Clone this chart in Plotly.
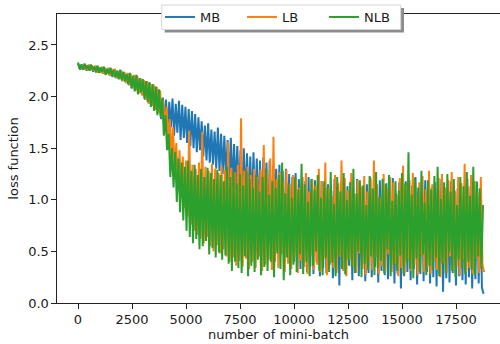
import plotly.graph_objects as go

step = 75  # mini-batch spacing between successive readings

mb = [2.32,2.26,2.31,2.27,2.31,2.25,2.30,2.26,2.30,2.24,
      2.29,2.23,2.29,2.24,2.28,2.22,2.28,2.22,2.27,2.21,
      2.27,2.19,2.26,2.18,2.25,2.17,2.25,2.15,2.23,2.14,
      2.22,2.11,2.22,2.08,2.20,2.06,2.20,2.03,2.17,2.02,
      2.16,1.97,2.14,1.94,2.13,1.91,2.11,1.88,2.09,1.85,
      2.05,1.78,1.99,1.72,1.97,1.66,1.95,1.70,1.98,1.62,
      1.93,1.65,1.96,1.58,1.92,1.60,1.90,1.55,1.88,1.52,
      1.86,1.50,1.83,1.46,1.80,1.48,1.76,1.42,1.72,1.38,
      1.74,1.36,1.68,1.34,1.66,1.30,1.70,1.28,1.64,1.25,
      1.62,1.20,1.58,1.18,1.60,1.12,1.54,1.10,1.52,1.05,
      1.48,1.02,1.50,0.98,1.45,0.95,1.42,0.90,1.46,0.86,
      1.40,0.82,1.38,0.78,1.41,0.74,1.36,0.70,1.38,0.66,
      1.33,0.62,1.30,0.58,1.34,0.55,1.28,0.50,1.30,0.46,
      1.25,0.42,1.22,0.40,1.26,0.36,1.20,0.33,1.15,0.38,
      1.18,0.30,1.22,0.35,1.10,0.28,1.19,0.40,1.12,0.26,
      1.18,0.34,1.03,0.29,1.15,0.37,1.09,0.24,1.20,0.31,
      1.07,0.17,1.17,0.33,1.00,0.27,1.13,0.36,1.18,0.22,
      1.05,0.30,1.20,0.26,1.11,0.34,1.02,0.21,1.15,0.29,
      1.22,0.25,1.08,0.35,1.14,0.20,1.19,0.31,1.04,0.27,
      1.16,0.23,1.11,0.32,1.21,0.19,1.06,0.28,1.17,0.14,
      1.10,0.26,1.18,0.30,1.01,0.22,1.14,0.33,1.22,0.18,
      1.07,0.28,1.15,0.21,1.19,0.30,1.03,0.19,1.12,0.25,
      1.17,0.16,1.09,0.27,1.20,0.11,1.05,0.24,1.14,0.20,
      1.18,0.29,1.02,0.17,1.11,0.26,1.16,0.22,1.08,0.18,
      1.20,0.25,1.13,0.14,1.06,0.23,1.17,0.19,1.11,0.15,
      0.09]

lb = [2.32,2.27,2.30,2.26,2.31,2.26,2.31,2.25,2.30,2.25,
      2.30,2.23,2.28,2.23,2.29,2.22,2.27,2.22,2.28,2.20,
      2.27,2.20,2.27,2.18,2.24,2.17,2.25,2.15,2.24,2.13,
      2.23,2.11,2.21,2.09,2.21,2.06,2.19,2.03,2.18,2.01,
      2.16,1.97,2.15,1.93,2.12,1.91,2.12,1.87,2.09,1.84,
      2.06,1.80,1.96,1.70,1.90,1.58,1.78,1.42,1.70,1.28,
      1.55,1.10,1.48,1.02,1.42,0.92,1.38,0.84,1.67,0.76,
      1.34,0.70,1.30,0.66,1.36,0.62,1.66,0.58,1.32,0.64,
      1.28,0.55,1.35,0.50,1.30,0.56,1.26,0.48,1.33,0.52,
      1.29,0.45,1.56,0.40,1.31,0.44,1.27,0.36,1.34,0.41,
      1.79,0.35,1.28,0.43,1.32,0.33,1.24,0.40,1.30,0.34,
      1.22,0.45,1.29,0.31,1.53,0.37,1.25,0.42,1.40,0.32,
      1.61,0.40,1.20,0.34,1.27,0.47,1.18,0.30,1.29,0.38,
      1.15,0.33,1.24,0.44,1.19,0.29,1.12,0.41,1.22,0.35,
      1.26,0.28,1.08,0.46,1.20,0.32,1.14,0.37,1.30,0.30,
      1.18,0.43,1.36,0.27,1.12,0.39,1.04,0.34,1.24,0.29,
      1.16,0.45,1.38,0.31,1.21,0.26,1.09,0.42,1.26,0.35,
      1.06,0.29,1.19,0.48,1.13,0.33,1.23,0.27,1.08,0.40,
      1.20,0.32,1.38,0.44,1.15,0.28,1.02,0.36,1.25,0.31,
      1.11,0.47,1.22,0.30,1.17,0.38,1.05,0.26,1.21,0.34,
      1.33,0.29,1.14,0.43,1.19,0.31,1.26,0.37,1.04,0.27,
      1.17,0.46,1.23,0.30,1.10,0.35,1.28,0.28,1.15,0.41,
      1.01,0.32,1.21,0.25,1.25,0.39,1.12,0.29,1.19,0.45,
      1.27,0.31,1.09,0.36,1.22,0.27,1.16,0.42,1.35,0.30,
      1.13,0.34,1.24,0.28,1.18,0.43,1.07,0.29,1.22,0.37,
      0.30]

nlb = [2.33,2.27,2.31,2.26,2.32,2.27,2.30,2.25,2.31,2.26,
       2.29,2.24,2.30,2.23,2.28,2.24,2.29,2.21,2.27,2.22,
       2.28,2.20,2.26,2.19,2.25,2.17,2.26,2.16,2.24,2.15,
       2.22,2.12,2.23,2.08,2.20,2.05,2.21,2.02,2.18,2.04,
       2.17,1.98,2.15,1.95,2.14,1.90,2.12,1.86,2.10,1.82,
       2.07,1.80,1.98,1.62,1.82,1.48,1.64,1.22,1.50,1.12,
       1.46,0.98,1.40,0.88,1.36,0.80,1.32,0.70,1.38,0.64,
       1.28,0.58,1.34,0.62,1.24,0.52,1.30,0.55,1.22,0.60,
       1.31,0.47,1.26,0.53,1.20,0.44,1.29,0.49,1.24,0.42,
       1.18,0.46,1.32,0.38,1.22,0.31,1.27,0.40,1.16,0.34,
       1.25,0.29,1.14,0.45,1.28,0.26,1.20,0.36,1.12,0.30,
       1.24,0.42,1.08,0.27,1.22,0.35,1.30,0.31,1.05,0.40,
       1.18,0.25,1.12,0.48,1.24,0.33,1.36,0.22,1.06,0.44,
       1.16,0.27,1.02,0.37,1.22,0.30,1.10,0.47,1.35,0.28,
       1.15,0.40,0.98,0.26,1.20,0.36,1.10,0.50,1.24,0.31,
       1.02,0.27,1.18,0.44,1.12,0.30,1.27,0.39,0.96,0.26,
       1.22,0.46,1.08,0.33,1.26,0.28,1.00,0.42,1.17,0.35,
       1.30,0.29,1.06,0.50,1.19,0.25,1.14,0.38,0.95,0.32,
       1.23,0.45,1.11,0.27,1.27,0.34,1.03,0.41,1.20,0.29,
       1.15,0.52,1.24,0.26,0.99,0.37,1.18,0.31,1.09,0.46,
       1.26,0.28,1.16,0.39,1.46,0.33,1.05,0.24,1.21,0.43,
       1.12,0.30,1.28,0.47,0.97,0.27,1.19,0.36,1.10,0.32,
       1.23,0.44,1.32,0.26,1.01,0.38,1.17,0.29,1.25,0.49,
       1.08,0.31,1.20,0.25,0.95,0.42,1.22,0.34,1.13,0.28,
       1.27,0.40,1.04,0.32,1.32,0.27,1.18,0.45,1.11,0.33,
       0.95]

series = [("MB", mb, "#1f77b4"), ("LB", lb, "#ff7f0e"), ("NLB", nlb, "#2ca02c")]
phase = {"MB": 25, "LB": 50, "NLB": 0}   # readings of each run sit at slightly different batches

x_ticks = [0, 2500, 5000, 7500, 10000, 12500, 15000, 17500]
y_ticks = [0.0, 0.5, 1.0, 1.5, 2.0, 2.5]

fig = go.Figure()
for name, vals, col in series:
    xs = [phase[name] + i * step for i in range(len(vals))]
    xs[0] = 0
    fig.add_trace(go.Scatter(x=xs, y=vals, mode="lines", name=name,
                             line=dict(color=col, width=2)))

txt = "#1a1a1a"
font = dict(family="DejaVu Sans", size=13, color=txt)
W, L, B, T = 443, 57, 303, 14
H = B - T


def px_x(p):
    return (p - L) / W


def px_y(p):
    return (B - p) / H


fig.update_layout(
    width=500, height=344,
    margin=dict(l=L, r=0, t=T, b=344 - B),
    plot_bgcolor="white", paper_bgcolor="white",
    font=font,
    showlegend=True,
    legend=dict(orientation="h", x=px_x(160), xanchor="left",
                y=px_y(2), yanchor="top",
                bgcolor="rgba(0,0,0,0)", borderwidth=0,
                font=dict(family="DejaVu Sans", size=13, color=txt),
                itemwidth=30, entrywidth=37, tracegroupgap=0),
    xaxis=dict(range=[-972, 19537], tickvals=x_ticks, ticktext=[str(v) for v in x_ticks],
               showgrid=False, zeroline=False, showline=True, linecolor="#222222", linewidth=1.1,
               mirror=True, ticks="outside", ticklen=4.5, tickwidth=1.1, tickcolor="#222222",
               automargin=False,
               title=dict(text="number of mini-batch", standoff=3,
                          font=dict(family="DejaVu Sans", size=13, color=txt))),
    yaxis=dict(range=[0, 2.8], tickvals=y_ticks, ticktext=["%.1f" % v for v in y_ticks],
               showgrid=False, zeroline=False, showline=True, linecolor="#222222", linewidth=1.1,
               ticks="outside", ticklen=4.5, tickwidth=1.1, tickcolor="#222222",
               automargin=False,
               title=dict(text="loss function", standoff=6,
                          font=dict(family="DejaVu Sans", size=13, color=txt))),
    shapes=[
        dict(type="rect", xref="paper", yref="paper",
             x0=px_x(164.7), x1=px_x(404), y0=px_y(32.5), y1=px_y(8),
             fillcolor="#8c8c8c", line=dict(width=0), layer="above"),
        dict(type="rect", xref="paper", yref="paper",
             x0=px_x(161.7), x1=px_x(400.7), y0=px_y(29.5), y1=px_y(5),
             fillcolor="white", line=dict(width=1, color="#d6d6d6"), layer="above"),
    ],
)

fig.write_html("out.html")
